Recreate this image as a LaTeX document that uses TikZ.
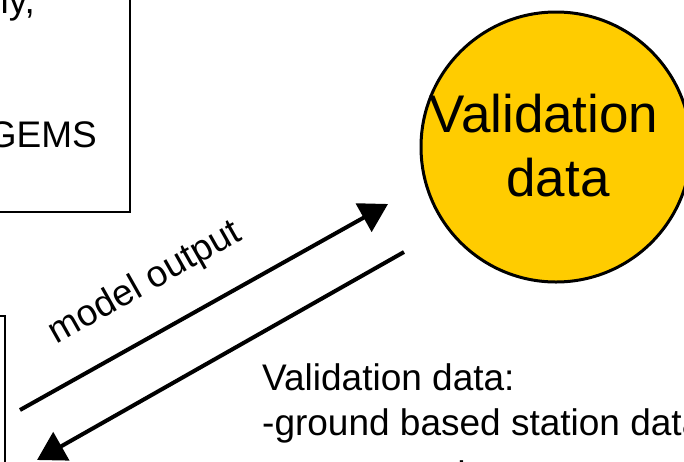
\documentclass[tikz,border=0pt]{standalone}
\usepackage{fontspec}
\setmainfont{Liberation Sans}
\usetikzlibrary{arrows.meta}
\definecolor{valyellow}{RGB}{255,204,0}
\tikzset{
  box/.style={draw=black, line width=2pt, fill=white, rectangle, inner sep=0pt},
  bodytext/.style={inner sep=0pt, font=\fontsize{37}{44}\selectfont},
  bigtext/.style={inner sep=0pt, font=\fontsize{53}{60}\selectfont},
  flow/.style={line width=4pt, -{Triangle[length=28pt,width=32pt]}}
}
\begin{document}
\begin{tikzpicture}[x=1pt, y=-1pt]
\useasboundingbox (0,0) rectangle (684,461);
\clip (0,0) rectangle (684,461);

% model box (upper left) and its text
\node[box, minimum width=430pt, minimum height=312pt] (modelbox) at (-85,56) {};
\node[bodytext, anchor=base east] (modelline1) at (35,13) {ly,};
\node[bodytext, anchor=base east] (modelline2) at (97,147) {GEMS};

% second box (lower left)
\node[box, minimum width=305pt, minimum height=384pt] (lowerbox) at (-147.5,508) {};

% validation data circle
\node[draw=black, line width=3pt, fill=valyellow, circle, minimum size=270pt, inner sep=0pt] (valcircle) at (556,147) {};
\node[bigtext, anchor=base] (valword1) at (544,132) {Validation};
\node[bigtext, anchor=base] (valword2) at (558,196) {data};

% connectors
\coordinate (outstart) at (20,410);
\coordinate (outend) at (388,204);
\coordinate (backstart) at (404,252);
\coordinate (backend) at (37,460);
\draw[flow] (outstart) -- (outend);
\draw[flow] (backstart) -- (backend);

\node[bodytext, anchor=base, rotate=29.5] (outlabel) at (150,292) {model output};

% description of the validation data
\node[bodytext, anchor=base west] (valtitle) at (262,390) {Validation data:};
\node[bodytext, anchor=base west] (valitem1) at (262,435) {-ground based station data};
\node[bodytext, anchor=base west] (valitem2) at (262,487) {-ozone sondes};
\end{tikzpicture}
\end{document}
